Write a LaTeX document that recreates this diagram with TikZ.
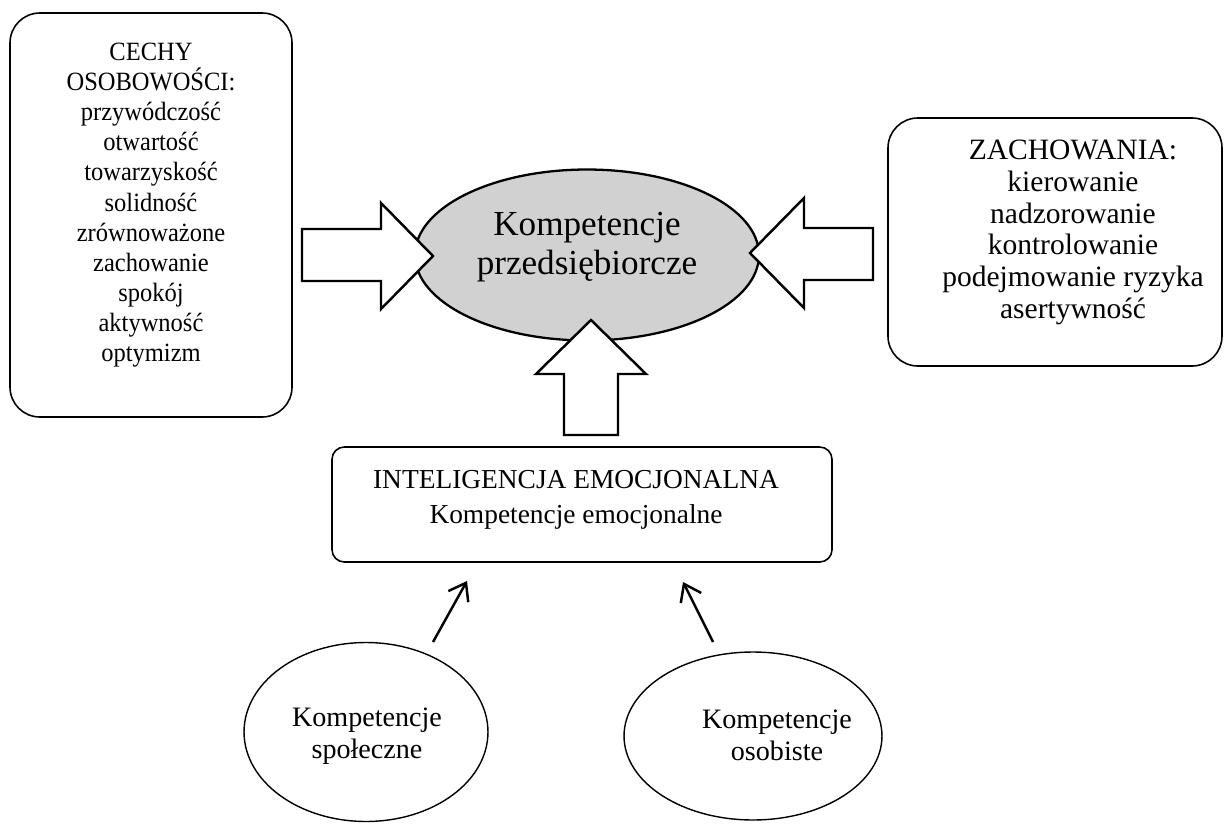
\documentclass[tikz,border=0pt]{standalone}
\usepackage{fontspec}
\setmainfont{Liberation Serif}
\newfontfamily\narrowserif{Liberation Serif}[FakeStretch=0.93]
\usetikzlibrary{arrows.meta,shapes.geometric}

\begin{document}
\begin{tikzpicture}[x=0.02cm, y=-0.02cm,
  every node/.style={inner sep=0pt, align=center},
  roundbox/.style={draw, line width=0.9pt, rounded corners=17pt},
  blockarrow/.style={draw, fill=white, line width=1.4pt, line join=miter},
  oval/.style={draw, ellipse, line width=0.8pt},
  thinarrow/.style={-{Straight Barb[length=9pt, width=13pt, line width=1.4pt]}, line width=1.4pt}]
  \useasboundingbox (0,0) rectangle (1228,825);
  % Personality traits (left)
  \draw[roundbox] (10,13) rectangle (292,417);
  \node[anchor=north, font=\narrowserif\fontsize{15}{17.1}\selectfont] (cechy) at (151,43)
    {CECHY\\OSOBOWOŚCI:\\przywódczość\\otwartość\\towarzyskość\\solidność\\zrównoważone\\zachowanie\\spokój\\aktywność\\optymizm};
  % Behaviours (right)
  \draw[roundbox] (888,118) rectangle (1222,366);
  \node[anchor=north, font=\fontsize{16.8}{18}\selectfont] (zach) at (1073,140)
    {ZACHOWANIA:\\kierowanie\\nadzorowanie\\kontrolowanie\\podejmowanie ryzyka\\asertywność};
  % Central ellipse
  \node[oval, fill=black!18, line width=1.3pt, minimum width=6.88cm, minimum height=3.42cm] (komp) at (587,255) {};
  \node[font=\fontsize{20}{22}\selectfont] (kompt) at (587,247) {Kompetencje\\przedsiębiorcze};
  % Block arrows into the ellipse
  \draw[blockarrow] (302,229) -- (381,229) -- (381,203) -- (433,256) -- (381,309) -- (381,281) -- (302,281) -- cycle;
  \draw[blockarrow] (873,228) -- (804,228) -- (804,198) -- (750,253) -- (804,308) -- (804,280) -- (873,280) -- cycle;
  \draw[blockarrow] (564,435) -- (564,374) -- (536,374) -- (591,320) -- (646,374) -- (618,374) -- (618,435) -- cycle;
  % Emotional intelligence
  \draw[draw, line width=0.9pt, rounded corners=7pt] (332,447) rectangle (832,562);
  \node[anchor=north, font=\fontsize{15.6}{19.9}\selectfont] (intel) at (576,470)
    {INTELIGENCJA EMOCJONALNA\\Kompetencje emocjonalne};
  % Social and personal competences
  \node[oval, minimum width=4.88cm, minimum height=3.58cm] (spol) at (366,732) {};
  \node[anchor=north, font=\fontsize{16}{18.2}\selectfont] (spolt) at (367,708) {Kompetencje\\społeczne};
  \node[oval, minimum width=5.16cm, minimum height=3.36cm] (osob) at (753,736) {};
  \node[anchor=north, font=\fontsize{16}{18.2}\selectfont] (osobt) at (777,710) {Kompetencje\\osobiste};
  % Thin arrows towards the box
  \coordinate (spolfrom) at (433,642);
  \coordinate (spolto) at (467,581);
  \coordinate (osobfrom) at (713,642);
  \coordinate (osobto) at (683,582);
  \draw[thinarrow] (spolfrom) -- (spolto);
  \draw[thinarrow] (osobfrom) -- (osobto);
\end{tikzpicture}
\end{document}
